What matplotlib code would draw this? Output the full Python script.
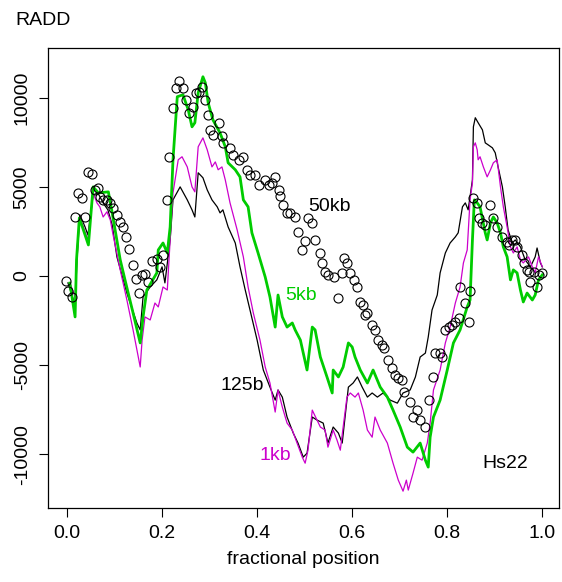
import matplotlib
matplotlib.use("Agg")
import matplotlib.pyplot as plt

plt.rcParams['font.family'] = ['Liberation Sans', 'DejaVu Sans']

# 125b window (black line)
x_125b = [0.002, 0.017, 0.021, 0.027, 0.038, 0.044, 0.055, 0.065, 0.076, 0.086,
          0.095, 0.105, 0.126, 0.147, 0.154, 0.160, 0.175, 0.189, 0.200, 0.206,
          0.217, 0.223, 0.238, 0.253, 0.263, 0.269, 0.276, 0.286, 0.295, 0.305,
          0.316, 0.322, 0.328, 0.339, 0.354, 0.364, 0.375, 0.385, 0.400, 0.413,
          0.427, 0.438, 0.444, 0.453, 0.463, 0.476, 0.486, 0.497, 0.505, 0.516,
          0.526, 0.539, 0.549, 0.560, 0.571, 0.579, 0.585, 0.592, 0.602, 0.611,
          0.621, 0.632, 0.642, 0.653, 0.665, 0.680, 0.695, 0.707, 0.722, 0.733,
          0.743, 0.754, 0.760, 0.768, 0.779, 0.785, 0.796, 0.806, 0.817, 0.823,
          0.832, 0.838, 0.844, 0.853, 0.855, 0.859, 0.865, 0.874, 0.880, 0.886,
          0.895, 0.901, 0.907, 0.916, 0.922, 0.928, 0.937, 0.943, 0.954, 0.964,
          0.975, 0.985, 0.989, 0.996, 1.000]
y_125b = [-390, -1630, 900, 3430, 2750, 2300, 4550, 4660, 4100, 3710,
          2870, 1070, -960, -2640, -3030, -1180, -620, -220, 510, -390,
          2020, 4270, 5000, 4270, 3710, 3310, 5790, 5510, 4830, 4270,
          3880, 3540, 3710, 2750, 1850, 510, -790, -1910, -3600, -5280,
          -6240, -6970, -6400, -6800, -7920, -8820, -9380, -10170, -9950, -7920,
          -8090, -8260, -9380, -8480, -8820, -9380, -7920, -6240, -6010, -5670,
          -6240, -6800, -6570, -6800, -6570, -6970, -7140, -6570, -6400, -5670,
          -4550, -4330, -3430, -1910, -1070, 170, 1290, 1850, 2190, 2420,
          3880, 4100, 3710, 5390, 8370, 8880, 8600, 8200, 7470, 7360,
          7190, 6910, 6120, 5000, 3880, 2580, 1850, 2020, 1630, 900,
          510, 1070, 1570, 730, 510]

# 1kb window (magenta line)
x_1kb = [0.006, 0.017, 0.021, 0.027, 0.044, 0.055, 0.063, 0.069, 0.076, 0.084,
         0.091, 0.097, 0.112, 0.126, 0.139, 0.154, 0.158, 0.164, 0.175, 0.185,
         0.192, 0.202, 0.211, 0.217, 0.223, 0.234, 0.242, 0.253, 0.263, 0.269,
         0.276, 0.286, 0.295, 0.305, 0.312, 0.318, 0.326, 0.333, 0.343, 0.358,
         0.371, 0.381, 0.392, 0.406, 0.417, 0.427, 0.438, 0.444, 0.453, 0.463,
         0.474, 0.484, 0.495, 0.501, 0.507, 0.516, 0.526, 0.533, 0.543, 0.549,
         0.560, 0.568, 0.575, 0.581, 0.589, 0.596, 0.606, 0.613, 0.623, 0.632,
         0.642, 0.648, 0.659, 0.674, 0.686, 0.697, 0.707, 0.714, 0.718, 0.728,
         0.737, 0.747, 0.758, 0.764, 0.771, 0.785, 0.796, 0.806, 0.817, 0.827,
         0.834, 0.842, 0.848, 0.853, 0.855, 0.859, 0.863, 0.865, 0.869, 0.876,
         0.884, 0.891, 0.897, 0.905, 0.912, 0.918, 0.926, 0.933, 0.939, 0.947,
         0.954, 0.960, 0.971, 0.979, 0.985, 0.992, 1.000]
y_1kb = [-390, -1180, 1460, 3310, 2020, 4660, 4100, 3880, 3310, 3600,
         3150, 2300, 340, -1350, -3030, -5110, -3600, -2300, -2470, -1520,
         -1740, -620, -790, 2020, 4660, 6520, 6690, 6120, 5000, 4720,
         7250, 7750, 7080, 6120, 6400, 5960, 6120, 5390, 4100, 2580,
         1070, -620, -2080, -3600, -5110, -6010, -7640, -6400, -7360, -8260,
         -8650, -9380, -10170, -10510, -9780, -7530, -8090, -8480, -8650, -9610,
         -8650, -9210, -9780, -8480, -6800, -6570, -6800, -6570, -7530, -8650,
         -9050, -7920, -8650, -9380, -10510, -11460, -12080, -11460, -12020, -11070,
         -10170, -10340, -9380, -8260, -6400, -5280, -3760, -2870, -1520, -620,
         730, 1460, 4270, 5220, 7250, 7470, 7080, 6520, 6690, 6120,
         5560, 5960, 6350, 6520, 5000, 3880, 2750, 1630, 1290, 1630,
         900, 730, 1070, 510, 170, 1070, 510]

# 5kb window (green line)
x_5kb = [0.006, 0.017, 0.020, 0.026, 0.045, 0.055, 0.066, 0.087, 0.094, 0.112,
         0.122, 0.139, 0.154, 0.160, 0.168, 0.189, 0.192, 0.202, 0.211, 0.217,
         0.223, 0.232, 0.244, 0.255, 0.263, 0.269, 0.276, 0.286, 0.291, 0.297,
         0.307, 0.322, 0.333, 0.339, 0.354, 0.364, 0.371, 0.381, 0.389, 0.402,
         0.417, 0.427, 0.438, 0.444, 0.453, 0.463, 0.474, 0.480, 0.491, 0.505,
         0.516, 0.522, 0.533, 0.547, 0.558, 0.560, 0.571, 0.581, 0.592, 0.600,
         0.606, 0.617, 0.632, 0.644, 0.659, 0.674, 0.686, 0.701, 0.716, 0.728,
         0.743, 0.754, 0.760, 0.764, 0.771, 0.785, 0.800, 0.813, 0.827, 0.842,
         0.848, 0.853, 0.857, 0.863, 0.869, 0.880, 0.884, 0.891, 0.897, 0.905,
         0.912, 0.918, 0.926, 0.933, 0.939, 0.947, 0.954, 0.960, 0.968, 0.979,
         0.985, 0.992, 1.000]
y_5kb = [-400, -2300, 900, 3260, 1740, 5000, 4660, 4720, 3710, 900,
         -220, -2080, -3760, -2300, -790, 170, 1460, 1850, 1290, 2750,
         6520, 10060, 10170, 9330, 8370, 8600, 10280, 11180, 10840, 9720,
         8760, 8030, 7250, 6350, 5960, 5560, 4270, 3880, 2420, 1290,
         -60, -1180, -2870, -1070, -2300, -2870, -2640, -3030, -3600, -5280,
         -2870, -3030, -4550, -5670, -6570, -5280, -5670, -5110, -3760, -3990,
         -4550, -5280, -6010, -5280, -6240, -6800, -7530, -8480, -9610, -9890,
         -9380, -10340, -10730, -9050, -7920, -6970, -5280, -3760, -3030, -1740,
         -1350, 2020, 4270, 4100, 3880, 2420, 2020, 2980, 3310, 2980,
         2420, 1630, 1070, -220, 340, 170, -790, -1460, -960, -1350,
         -1070, -220, 60]

# 50kb window (open circles)
x_50kb = [-0.003, 0.003, 0.010, 0.017, 0.024, 0.031, 0.038, 0.045, 0.052, 0.059,
          0.066, 0.069, 0.076, 0.084, 0.091, 0.097, 0.105, 0.112, 0.117, 0.124,
          0.131, 0.138, 0.145, 0.152, 0.157, 0.164, 0.171, 0.178, 0.189, 0.196,
          0.203, 0.210, 0.215, 0.224, 0.229, 0.236, 0.244, 0.251, 0.257, 0.265,
          0.272, 0.278, 0.284, 0.291, 0.297, 0.301, 0.308, 0.319, 0.326, 0.329,
          0.343, 0.350, 0.361, 0.371, 0.378, 0.385, 0.396, 0.403, 0.417, 0.424,
          0.431, 0.438, 0.445, 0.448, 0.455, 0.463, 0.469, 0.480, 0.487, 0.494,
          0.501, 0.508, 0.515, 0.522, 0.533, 0.536, 0.543, 0.550, 0.561, 0.571,
          0.578, 0.582, 0.589, 0.596, 0.603, 0.610, 0.617, 0.623, 0.627, 0.631,
          0.641, 0.648, 0.655, 0.663, 0.666, 0.676, 0.684, 0.691, 0.697, 0.705,
          0.708, 0.722, 0.729, 0.736, 0.743, 0.754, 0.761, 0.770, 0.775, 0.785,
          0.789, 0.796, 0.803, 0.810, 0.817, 0.824, 0.827, 0.838, 0.845, 0.848,
          0.855, 0.863, 0.866, 0.873, 0.880, 0.891, 0.897, 0.905, 0.915, 0.926,
          0.929, 0.936, 0.943, 0.947, 0.957, 0.961, 0.968, 0.971, 0.975, 0.982,
          0.989, 0.992, 0.999]
y_50kb = [-260, -840, -1170, 3310, 4680, 4380, 3310, 5860, 5710, 4830,
          4930, 4450, 4270, 4270, 4100, 3820, 3430, 3050, 2770, 2210,
          1500, 620, -190, -940, 60, 100, -320, 840, 940, 520,
          1180, 4270, 6670, 9420, 10550, 10920, 10550, 9890, 9140, 9460,
          10260, 10340, 10630, 9890, 9050, 8200, 7920, 8580, 7830, 7460,
          7170, 6800, 6520, 6700, 5960, 5670, 5670, 5110, 5390, 5110,
          5210, 5580, 4830, 4460, 3990, 3520, 3520, 3330, 2490, 1460,
          1970, 3240, 2960, 2020, 1280, 710, 240, 60, -40, -1250,
          150, 990, 710, 150, -220, -600, -1440, -1630, -2190, -2100,
          -2750, -3030, -3600, -3880, -4060, -4720, -5190, -5560, -5750, -5840,
          -6500, -7060, -7900, -7530, -8090, -8470, -6970, -5660, -4340, -4340,
          -4530, -3030, -2850, -2750, -2570, -2380, -600, -1530, -2570, -840,
          4370, 4080, 3240, 2960, 2870, 3990, 3240, 2770, 2210, 1910,
          1740, 2020, 2020, 1650, 1180, 710, 340, 240, -320, 240,
          -600, 60, 150]

x_ticks = [0.0, 0.2, 0.4, 0.6, 0.8, 1.0]
y_ticks = [-10000, -5000, 0, 5000, 10000]

GREEN = '#00cc00'
MAGENTA = '#cc00cc'

fig = plt.figure(figsize=(5.62, 5.82), dpi=100)
ax = fig.add_axes([0.0854, 0.127, 0.91, 0.791])

ax.plot(x_125b, y_125b, color='black', lw=0.9)
ax.plot(x_1kb, y_1kb, color=MAGENTA, lw=0.9)
ax.plot(x_5kb, y_5kb, color=GREEN, lw=2.0)
ax.plot(x_50kb, y_50kb, 'o', mfc='none', mec='black', ms=6.5, mew=0.8)

ax.text(0.552, 3880, '50kb', color='black', fontsize=14, ha='center', va='center')
ax.text(0.493, -1120, '5kb', color=GREEN, fontsize=14, ha='center', va='center')
ax.text(0.368, -6160, '125b', color='black', fontsize=14, ha='center', va='center')
ax.text(0.438, -10100, '1kb', color=MAGENTA, fontsize=14, ha='center', va='center')
ax.text(0.922, -10500, 'Hs22', color='black', fontsize=14, ha='center', va='center')

ax.set_xlim(-0.04, 1.036)
ax.set_ylim(-13030, 12810)
ax.set_xticks(x_ticks)
ax.set_xticklabels(['0.0', '0.2', '0.4', '0.6', '0.8', '1.0'])
ax.set_yticks(y_ticks)
ax.set_yticklabels([str(v) for v in y_ticks], rotation=90, va='center')
ax.tick_params(direction='out', length=6.5, width=0.8, labelsize=14, pad=6)
for s in ax.spines.values():
    s.set_linewidth(0.9)
ax.set_xlabel('fractional position', fontsize=14, labelpad=6)

fig.text(0.028, 0.964, 'RADD', fontsize=14, ha='left', va='center')

fig.savefig('out.png', dpi=100)
